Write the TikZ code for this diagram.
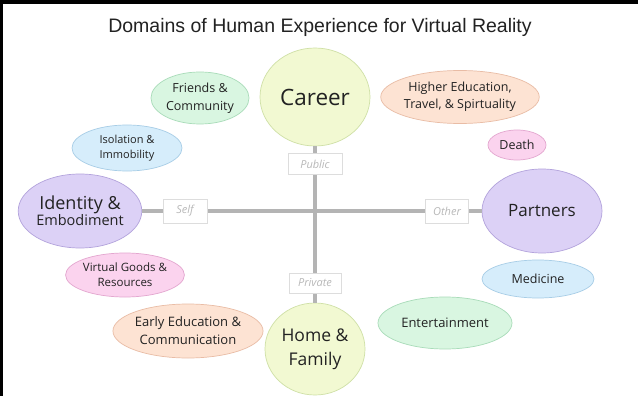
\documentclass[tikz,border=0pt]{standalone}
\usepackage{fontspec}
\setmainfont{Open Sans}
\newfontfamily\titlefont{Liberation Sans}
\usetikzlibrary{shapes.geometric}
\definecolor{ygfill}{HTML}{F2F9D2}\definecolor{ygdraw}{HTML}{CFE0A6}
\definecolor{pefill}{HTML}{FDE3D3}\definecolor{pedraw}{HTML}{E9BCA5}
\definecolor{mifill}{HTML}{D9F6E1}\definecolor{midraw}{HTML}{A9DCB9}
\definecolor{blfill}{HTML}{D6EDFB}\definecolor{bldraw}{HTML}{A7CDE6}
\definecolor{lafill}{HTML}{DCD1F6}\definecolor{ladraw}{HTML}{B3A3DC}
\definecolor{pifill}{HTML}{FBD3EE}\definecolor{pidraw}{HTML}{E3A6CF}
\definecolor{axis}{HTML}{B4B4B4}
\definecolor{lbltext}{HTML}{B8B8B8}
\definecolor{lblbox}{HTML}{DDDDDD}
\definecolor{txt}{HTML}{222222}
\tikzset{
  dom/.style={ellipse, inner sep=0pt, align=center, text=txt, line width=0.7pt},
  yg/.style={dom, fill=ygfill, draw=ygdraw},
  pe/.style={dom, fill=pefill, draw=pedraw},
  mi/.style={dom, fill=mifill, draw=midraw},
  bl/.style={dom, fill=blfill, draw=bldraw},
  la/.style={dom, fill=lafill, draw=ladraw},
  pi/.style={dom, fill=pifill, draw=pidraw},
  axisline/.style={draw=axis, line width=4pt},
  lbl/.style={rectangle, fill=white, draw=lblbox, line width=0.8pt, text=lbltext,
    font=\fontsize{11}{13}\selectfont\itshape, inner sep=0pt},
}
\newcommand{\fs}[2]{\fontsize{#1}{#2}\selectfont}
\begin{document}
\begin{tikzpicture}[x=1pt,y=-1pt]
\useasboundingbox (0,0) rectangle (638,396);
\fill[white] (0,0) rectangle (638,396);
\fill[black] (0,0) rectangle (638,4);
\fill[black] (0,0) rectangle (3,396);

\node[font=\titlefont\fs{19.5}{23}, text=txt] (title) at (320,27) {Domains of Human Experience for Virtual Reality};

\node[yg, minimum width=110pt, minimum height=98pt, font=\fs{22.5}{28}] (career) at (315,97) {Career};
\node[yg, minimum width=100pt, minimum height=92pt, font=\fs{17.5}{24}] (home) at (315,349) {Home \&\\Family};
\node[la, minimum width=108pt, minimum height=74pt] (identity) at (80,211) {{\fs{18}{22}Identity \&}\\{\fs{14.5}{20}Embodiment}};
\node[la, minimum width=120pt, minimum height=84pt, font=\fs{17}{22}] (partners) at (542,211) {Partners};

\node[mi, minimum width=98pt, minimum height=52pt, font=\fs{12.5}{18}] (friends) at (200,98) {Friends \&\\Community};
\node[pe, minimum width=150pt, minimum height=53pt, font=\fs{12.5}{17}] (higher) at (460,97) {Higher Education,\\Travel, \& Spirtuality};
\node[pi, minimum width=58pt, minimum height=30pt, font=\fs{12.5}{15}] (death) at (517,145) {Death};
\node[bl, minimum width=110pt, minimum height=46pt, font=\fs{11}{15}] (isolation) at (127,148) {Isolation \&\\Immobility};
\node[pi, minimum width=104pt, minimum height=44pt, font=\fs{11.5}{15}] (virtual) at (125,275) {Virtual Goods \&\\Resources};
\node[pe, minimum width=140pt, minimum height=54pt, font=\fs{13}{18}] (early) at (188,331) {Early Education \&\\Communication};
\node[mi, minimum width=134pt, minimum height=52pt, font=\fs{13}{16}] (entertain) at (445,323) {Entertainment};
\node[bl, minimum width=112pt, minimum height=38pt, font=\fs{12.5}{15}] (medicine) at (538,279) {Medicine};

\draw[axisline] (career.south) -- (home.north);
\draw[axisline] (identity.east) -- (partners.west);

\node[lbl, minimum width=54pt, minimum height=21pt] (public) at (315,164) {Public};
\node[lbl, minimum width=52pt, minimum height=20pt] (private) at (315,283) {Private};
\node[lbl, minimum width=44pt, minimum height=24pt] (self) at (185,211) {Self};
\node[lbl, minimum width=43pt, minimum height=24pt] (other) at (447,211) {Other};
\end{tikzpicture}
\end{document}
